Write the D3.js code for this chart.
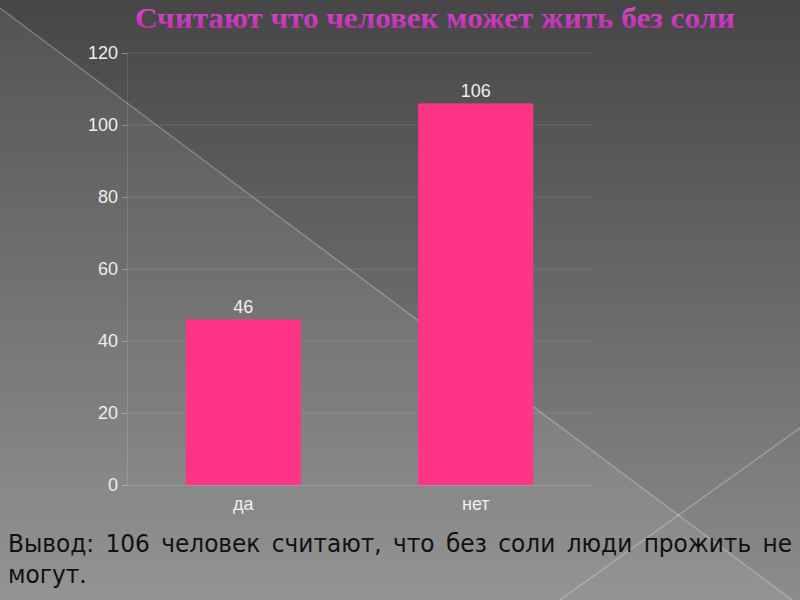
<!DOCTYPE html>
<html>
<head>
<meta charset="utf-8">
<script src="https://cdn.jsdelivr.net/npm/d3@7"></script>
<style>
  html, body { margin: 0; padding: 0; }
  body { width: 800px; height: 600px; overflow: hidden; }
</style>
</head>
<body>
<svg id="chart" width="800" height="600" style="display:block"></svg>
<script>
const title = "Считают что человек может жить без соли";
const categories = ["да", "нет"];
const values = [46, 106];
const yTicks = [0, 20, 40, 60, 80, 100, 120];
const noteLine1 = "Вывод: 106 человек считают, что без соли люди прожить не";
const noteLine2 = "могут.";

const svg = d3.select("#chart");
const defs = svg.append("defs");
const grad = defs.append("linearGradient").attr("id", "bg").attr("x1", 0).attr("y1", 0).attr("x2", 0).attr("y2", 1);
grad.append("stop").attr("offset", "0%").attr("stop-color", "#464646");
grad.append("stop").attr("offset", "100%").attr("stop-color", "#8c8c8c");
svg.append("rect").attr("width", 800).attr("height", 600).attr("fill", "url(#bg)");

const tg = defs.append("linearGradient").attr("id", "tg").attr("x1", 0).attr("y1", 0).attr("x2", 0).attr("y2", 1);
tg.append("stop").attr("offset", "0%").attr("stop-color", "#e050d8");
tg.append("stop").attr("offset", "100%").attr("stop-color", "#b82aa8");

// decorative diagonals
svg.append("path").attr("d", "M0,8 L800,606 L0,606 Z").attr("fill", "rgba(255,255,255,0.07)");
svg.append("line").attr("x1", 0).attr("y1", 8).attr("x2", 800).attr("y2", 606)
  .attr("stroke", "rgba(255,255,255,0.25)").attr("stroke-width", 1.5);
svg.append("line").attr("x1", 560).attr("y1", 600).attr("x2", 800).attr("y2", 428)
  .attr("stroke", "rgba(255,255,255,0.25)").attr("stroke-width", 1.5);

// title
const tt = svg.append("text").attr("x", 435).attr("y", 28).attr("text-anchor", "middle")
  .attr("font-family", "Liberation Serif, serif").attr("font-size", 30).attr("font-weight", "bold")
  .attr("fill", "url(#tg)").text(title);
tt.attr("textLength", 600).attr("lengthAdjust", "spacingAndGlyphs");

const mLeft = 127, mRight = 592, mTop = 53, mBottom = 485;
const x = d3.scaleBand().domain(categories).range([mLeft, mRight]).padding(0);
const y = d3.scaleLinear().domain([0, 120]).range([mBottom, mTop]);

// gridlines
svg.append("g").selectAll("line").data(yTicks.filter(d => d > 0)).join("line")
  .attr("x1", mLeft).attr("x2", mRight).attr("y1", d => y(d)).attr("y2", d => y(d))
  .attr("stroke", "rgba(255,255,255,0.12)").attr("stroke-width", 1);

// y axis
const yAxis = svg.append("g").attr("transform", `translate(${mLeft},0)`)
  .call(d3.axisLeft(y).tickValues(yTicks).tickSize(5).tickPadding(4));
yAxis.select(".domain").attr("stroke", "rgba(255,255,255,0.12)");
yAxis.selectAll(".tick line").attr("stroke", "rgba(255,255,255,0.3)");
yAxis.selectAll("text").attr("font-family", "Liberation Sans, Arial, sans-serif")
  .attr("font-size", 18).attr("fill", "#eeeeee");

// x axis
const xAxis = svg.append("g").attr("transform", `translate(0,${mBottom})`)
  .call(d3.axisBottom(x).tickSize(0).tickPadding(12));
xAxis.select(".domain").attr("stroke", "rgba(255,255,255,0.15)");
xAxis.selectAll("text").attr("font-family", "Liberation Sans, Arial, sans-serif")
  .attr("font-size", 18).attr("fill", "#eeeeee");

// bars
const bw = x.bandwidth() * 0.495;
svg.append("g").selectAll("rect").data(values).join("rect")
  .attr("x", (d, i) => x(categories[i]) + (x.bandwidth() - bw) / 2)
  .attr("width", bw)
  .attr("y", d => y(d)).attr("height", d => y(0) - y(d))
  .attr("fill", "#fe3587");

// value labels
svg.append("g").selectAll("text").data(values).join("text")
  .attr("x", (d, i) => x(categories[i]) + x.bandwidth() / 2)
  .attr("y", d => y(d) - 6).attr("text-anchor", "middle")
  .attr("font-family", "Liberation Sans, Arial, sans-serif").attr("font-size", 18)
  .attr("fill", "#eeeeee").text(d => d);

// conclusion text (justified first line)
const sx = 0.93, noteW = 784, noteX = 8;
const ng = svg.append("g").attr("transform", `translate(${noteX},0) scale(${sx},1)`)
  .attr("font-family", "DejaVu Sans, Verdana, sans-serif").attr("font-size", 25).attr("fill", "#111");
const l1 = ng.append("text").attr("x", 0).attr("y", 552).text(noteLine1);
const natural = l1.node().getComputedTextLength();
const spaces = noteLine1.split(" ").length - 1;
l1.attr("word-spacing", (noteW / sx - natural) / spaces);
ng.append("text").attr("x", 0).attr("y", 583).text(noteLine2);
</script>
</body>
</html>
